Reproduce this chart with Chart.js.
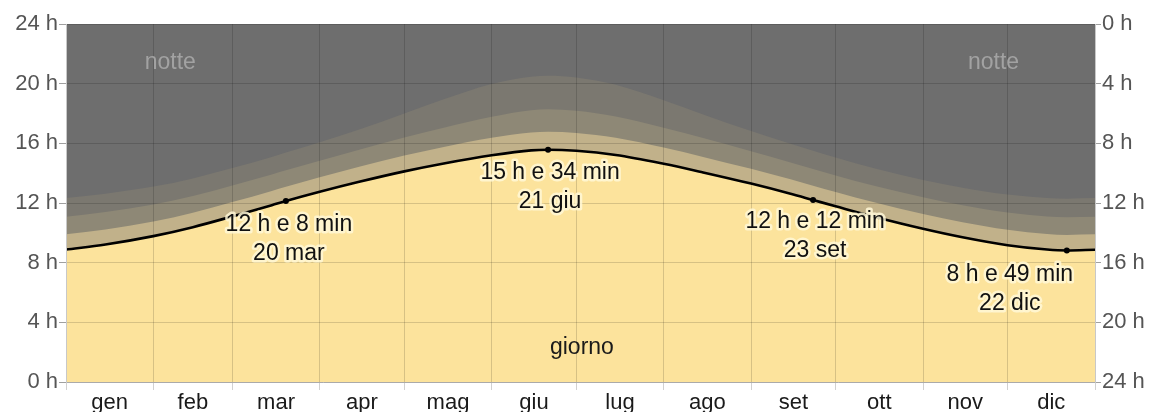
<!DOCTYPE html>
<html>
<head>
<meta charset="utf-8">
<script src="https://cdn.jsdelivr.net/npm/chart.js@4/dist/chart.umd.min.js"></script>
<style>
  html, body { margin: 0; padding: 0; background: #ffffff; }
  #wrap { width: 1153px; height: 412px; position: relative; }
</style>
</head>
<body>
<div id="wrap"><canvas id="c" width="1153" height="412"></canvas></div>
<script>
// ---- data (day of year, 0 = 1 gen, 365 = end of year) ----
const monthNames = ['gen','feb','mar','apr','mag','giu','lug','ago','set','ott','nov','dic'];
const monthStarts = [0,31,59,90,120,151,181,212,243,273,304,334,365];
const yTicks = [0,4,8,12,16,20,24];

const days = [0,14,31,45,59,73,78,90,104,120,134,151,165,171,181,195,212,226,243,257,265,273,287,304,318,334,348,355,365];
const daylight = [8.88,9.22,9.78,10.38,11.10,11.85,12.13,12.75,13.42,14.12,14.65,15.20,15.53,15.57,15.50,15.22,14.63,14.05,13.30,12.62,12.20,11.78,11.06,10.27,9.70,9.17,8.88,8.82,8.87];
const civil = [9.90,10.22,10.76,11.35,12.06,12.81,13.09,13.73,14.43,15.18,15.76,16.37,16.73,16.78,16.70,16.38,15.72,15.09,14.29,13.59,13.16,12.74,12.03,11.26,10.71,10.20,9.92,9.86,9.90];
const nautical = [11.08,11.39,11.90,12.47,13.17,13.91,14.19,14.84,15.57,16.39,17.05,17.78,18.22,18.28,18.18,17.80,17.05,16.35,15.47,14.72,14.28,13.85,13.14,12.38,11.85,11.36,11.09,11.04,11.08];
const astronomical = [12.33,12.62,13.10,13.65,14.34,15.09,15.38,16.07,16.92,18.00,18.95,19.98,20.47,20.53,20.42,19.92,18.88,17.93,16.82,15.97,15.50,15.05,14.31,13.55,13.03,12.57,12.33,12.29,12.33];

// key points
const keyDays = [78,171,265,355];
const keyLabels = [
  ['12 h e 8 min','20 mar'],
  ['15 h e 34 min','21 giu'],
  ['12 h e 12 min','23 set'],
  ['8 h e 49 min','22 dic']
];

const pts = arr => days.map((d,i)=>({x:d, y:arr[i]}));
const FONT = '"Liberation Sans", Arial, sans-serif';

const COL_DAY = '#fce39c';
const COL_CIVIL = '#c1b18a';
const COL_NAUT = '#8e8876';
const COL_ASTRO = '#7b7870';
const COL_NIGHT = '#6e6e6e';
const GRID = 'rgba(0,0,0,0.15)';

const nightBg = {
  id: 'nightBg',
  beforeDatasetsDraw(chart) {
    const {ctx, chartArea:a} = chart;
    ctx.save();
    ctx.fillStyle = COL_NIGHT;
    ctx.fillRect(a.left, a.top, a.right-a.left, a.bottom-a.top);
    ctx.restore();
  }
};

const textLayer = {
  id: 'textLayer',
  afterDraw(chart) {
    const {ctx} = chart;
    const xs = chart.scales.x, ys = chart.scales.y;
    ctx.save();
    ctx.font = '23px ' + FONT;
    ctx.textAlign = 'center';
    ctx.textBaseline = 'alphabetic';
    ctx.fillStyle = '#a2a2a2';
    ctx.fillText('notte', xs.getPixelForValue(37), 69);
    ctx.fillText('notte', xs.getPixelForValue(329), 69);
    ctx.fillStyle = '#1a1a1a';
    ctx.fillText('giorno', xs.getPixelForValue(183), 354);
    const dx = [3, 2, 2, -57];
    const dy1 = [30, 29, 28, 31];
    keyDays.forEach((d,k)=>{
      const i = days.indexOf(d);
      const px = xs.getPixelForValue(d) + dx[k];
      const py = ys.getPixelForValue(daylight[i]);
      [[keyLabels[k][0], py+dy1[k]],[keyLabels[k][1], py+dy1[k]+29]].forEach(([t,y])=>{
        ctx.lineJoin = 'round';
        ctx.lineWidth = 5;
        ctx.strokeStyle = 'rgba(255,248,215,0.85)';
        ctx.strokeText(t, px, y);
        ctx.fillStyle = '#111';
        ctx.fillText(t, px, y);
      });
    });
    ctx.restore();
  }
};

const isStart = v => monthStarts.includes(v);
const mids = monthStarts.slice(0,12).map((s,i)=>(s+monthStarts[i+1])/2);

new Chart(document.getElementById('c'), {
  type: 'line',
  data: {
    datasets: [
      { label:'giorno', data: pts(daylight), borderColor:'#000', borderWidth:2.6, backgroundColor: COL_DAY, fill:'origin',
        cubicInterpolationMode:'monotone',
        pointRadius: ctx => keyDays.includes(days[ctx.dataIndex]) ? 3 : 0,
        pointBackgroundColor:'#000', pointBorderWidth:0 },
      { label:'civile', data: pts(civil), borderWidth:0, borderColor:'transparent', backgroundColor: COL_CIVIL, fill:'origin', cubicInterpolationMode:'monotone', pointRadius:0 },
      { label:'nautico', data: pts(nautical), borderWidth:0, borderColor:'transparent', backgroundColor: COL_NAUT, fill:'origin', cubicInterpolationMode:'monotone', pointRadius:0 },
      { label:'astronomico', data: pts(astronomical), borderWidth:0, borderColor:'transparent', backgroundColor: COL_ASTRO, fill:'origin', cubicInterpolationMode:'monotone', pointRadius:0 }
    ]
  },
  options: {
    responsive: false,
    animation: false,
    events: [],
    layout: { padding: { top: 24, left: 0, right: 0, bottom: 0 } },
    plugins: { legend: { display:false }, tooltip: { enabled:false } },
    scales: {
      x: {
        type:'linear', min:0, max:365, z:1,
        afterBuildTicks(s){ s.ticks = monthStarts.concat(mids).map(v=>({value:v})); },
        afterFit(s){ s.height = 30; },
        grid: {
          z: 1,
          color: c => isStart(c.tick.value) ? GRID : 'transparent',
          tickColor: c => isStart(c.tick.value) ? 'rgba(0,0,0,0.18)' : 'transparent',
          tickLength: 8, lineWidth: 1
        },
        border: { display:true, color:'#c8c8c8', z: 1 },
        ticks: {
          autoSkip:false, maxRotation:0, padding:0, color:'#1a1a1a',
          font:{ family: FONT, size: 22 },
          callback: v => { const i = mids.indexOf(v); return i>=0 ? monthNames[i] : ''; }
        }
      },
      y: {
        position:'left', min:0, max:24, z:1,
        afterBuildTicks(s){ s.ticks = yTicks.map(v=>({value:v})); },
        afterFit(s){ s.width = 66; },
        grid: { z: 1, color: GRID, tickColor:'#a0a0a0', tickLength:7, lineWidth:1 },
        border: { display:true, color:'#c8c8c8', z: 1 },
        ticks: { padding:1, color:'#555', font:{ family: FONT, size:22 }, callback: v => v + ' h' }
      },
      y2: {
        position:'right', min:0, max:24, reverse:true, z:1,
        afterBuildTicks(s){ s.ticks = yTicks.map(v=>({value:v})); },
        afterFit(s){ s.width = 58; },
        grid: { z: 1, drawOnChartArea:false, tickColor:'#a0a0a0', tickLength:6 },
        border: { display:true, color:'#c8c8c8', z: 1 },
        ticks: { padding:1, color:'#555', font:{ family: FONT, size:22 }, callback: v => v + ' h' }
      }
    }
  },
  plugins: [nightBg, textLayer]
});
</script>
</body>
</html>
